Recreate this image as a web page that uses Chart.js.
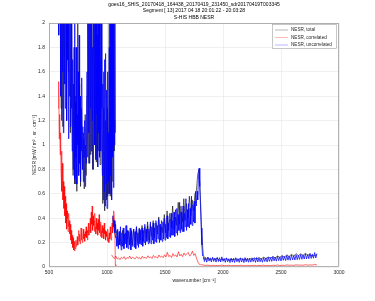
<!DOCTYPE html>
<html>
<head>
<meta charset="utf-8">
<script src="https://cdn.jsdelivr.net/npm/chart.js@4/dist/chart.umd.min.js"></script>
<style>
html,body{margin:0;padding:0;background:#fff;}
#wrap{width:375px;height:301px;}
</style>
</head>
<body>
<div id="wrap"><canvas id="c" width="375" height="301"></canvas></div>
<script>
// ---- Titles / labels ----
const titleLines = [
  "goes16_SHIS_20170418_164438_20170419_231450_sdr20170419T003345",
  "Segment [ 13] 2017 04 18 20:01:22 - 20:03:28",
  "S-HIS HBB NESR"
];
const xAxisTitle = "wavenumber [cm\u207B\u00B9]";
const yAxisTitle = "NESR [mW / m\u00B2 . sr . cm\u207B\u00B9]";
const seriesNames = ["NESR, total", "NESR, correlated", "NESR, uncorrelated"];
const xTicks = [500, 1000, 1500, 2000, 2500, 3000];
const yTicks = [0, 0.2, 0.4, 0.6, 0.8, 1, 1.2, 1.4, 1.6, 1.8, 2];
const yTickLabels = ["0", "0.2", "0.4", "0.6", "0.8", "1", "1.2", "1.4", "1.6", "1.8", "2"];

// ---- Band sampling (start wavenumber, step) ----
const lwGrid = [580, 4];
const mwGrid = [1050, 6];
const swGrid = [1830, 10];
const lwTotalGrid = [580, 8];
const mwTotalGrid = [1050, 12];
const swTotalGrid = [1830, 20];
const lwCorrGrid = [580, 4];
const mwCorrGrid = [1040, 12];
const swCorrGrid = [1810, 20];

// ---- NESR, uncorrelated (blue) ----
const lwUncorrelated = [
  2.6, 1.9, 2.8, 2.2, 3.0,
  1.4, 2.5, 1.2, 2.3, 1.6, 2.8, 1.1, 2.1, 1.5, 2.6, 1.3, 1.9, 2.4, 1.2, 2.2, 1.7, 2.9, 1.05, 2.0, 1.4, 2.5, 1.15, 1.8, 2.3, 1.3,
  0.95, 1.7, 0.8, 1.5, 1.1, 2.1, 0.72, 1.35, 0.9, 1.8, 0.68, 1.25, 1.0, 1.6, 0.75, 1.9, 0.85, 1.4, 0.7, 1.2, 0.95, 1.55,
  0.8, 1.15, 0.7, 1.05, 0.9, 1.2, 0.66, 1.0, 0.85, 1.3,
  1.6, 0.9, 2.4, 1.1, 2.2, 0.85, 2.7, 1.3, 2.0, 0.95, 2.5, 1.2, 1.8, 0.8, 2.3, 1.4, 2.9, 1.0, 2.1, 0.88, 2.6, 1.25, 1.9, 0.82, 2.4, 1.1, 2.2, 0.9, 1.7, 2.5, 0.95, 2.0, 1.3,
  0.75, 1.5, 0.55, 1.3, 0.62, 1.7, 0.5, 1.2, 0.68, 1.45, 0.48, 1.6, 0.58, 1.1, 0.7,
  1.8, 0.6, 2.4, 0.75, 2.1, 0.55, 2.6, 0.9, 2.2, 0.65, 2.8, 1.0, 2.3, 1.1
];
const mwUncorrelated = [
  0.42, 0.33, 0.38, 0.28, 0.35, 0.25,
  0.17, 0.31, 0.15, 0.29, 0.18, 0.33, 0.14, 0.28, 0.17, 0.32, 0.15, 0.27, 0.19, 0.34, 0.16, 0.3, 0.15, 0.29, 0.18, 0.32, 0.14, 0.3, 0.17, 0.27, 0.31, 0.16, 0.29, 0.15, 0.33, 0.18, 0.28, 0.16, 0.31, 0.19, 0.3,
  0.18, 0.32, 0.17, 0.3, 0.2, 0.35, 0.18, 0.31, 0.21, 0.34, 0.19, 0.31, 0.2, 0.37, 0.19, 0.33, 0.22, 0.36, 0.19, 0.32, 0.21, 0.38, 0.2, 0.34, 0.23, 0.39, 0.2, 0.35, 0.22, 0.33, 0.21, 0.37, 0.23, 0.4, 0.22, 0.35, 0.24, 0.42, 0.23, 0.36, 0.25, 0.39, 0.24, 0.44, 0.26, 0.38,
  0.26, 0.45, 0.25, 0.41, 0.28, 0.48, 0.26, 0.43, 0.3, 0.53, 0.28, 0.45, 0.31, 0.29, 0.5, 0.29, 0.44, 0.33, 0.56, 0.3, 0.47, 0.33, 0.52, 0.32, 0.48, 0.35, 0.58, 0.34, 0.51, 0.37, 0.54, 0.36, 0.62,
  0.5, 0.62, 0.55, 0.72, 0.81, 0.66, 0.5, 0.32, 0.18, 0.09
];
const swUncorrelated = [
  0.085, 0.045, 0.078, 0.04, 0.082, 0.048, 0.075, 0.042, 0.08, 0.046, 0.074, 0.04, 0.079, 0.044, 0.076, 0.041, 0.083, 0.047,
  0.07, 0.038, 0.075, 0.042, 0.068, 0.036, 0.073, 0.04, 0.071, 0.037, 0.076, 0.043, 0.069, 0.038, 0.074, 0.041, 0.07, 0.036, 0.077, 0.042, 0.072, 0.039, 0.068, 0.04, 0.075, 0.044, 0.071, 0.038, 0.078, 0.041, 0.073, 0.043, 0.07, 0.039, 0.076, 0.045, 0.074, 0.042, 0.08, 0.046,
  0.078, 0.046, 0.084, 0.05, 0.08, 0.048, 0.088, 0.052, 0.083, 0.05, 0.09, 0.055, 0.086, 0.053, 0.094, 0.056, 0.09, 0.055, 0.098, 0.058, 0.093, 0.057, 0.1, 0.06, 0.096, 0.062, 0.104, 0.063, 0.099, 0.065, 0.108, 0.066, 0.102, 0.068, 0.112, 0.07, 0.106, 0.072, 0.118, 0.074, 0.11
];

// ---- NESR, correlated (red) ----
const lwCorrelated = [
  1.30, 1.52, 1.05, 1.25, 0.92,
  1.1, 0.78, 0.95, 0.62, 0.85, 0.55, 0.7, 0.48, 0.66, 0.42,
  0.58, 0.36, 0.52, 0.31, 0.46, 0.4, 0.29, 0.44, 0.33, 0.38,
  0.27, 0.35, 0.22, 0.3, 0.19, 0.26, 0.16, 0.24, 0.14, 0.21, 0.13, 0.19, 0.15, 0.22, 0.17,
  0.2, 0.25, 0.18, 0.23, 0.3, 0.21, 0.27, 0.19, 0.24, 0.32, 0.22, 0.28, 0.2, 0.26, 0.31, 0.23, 0.27, 0.21, 0.29, 0.25, 0.33, 0.24, 0.3, 0.22, 0.28, 0.36, 0.26, 0.3,
  0.32, 0.4, 0.28, 0.45, 0.35, 0.5, 0.3, 0.42, 0.34, 0.38, 0.29, 0.44, 0.33, 0.27, 0.4, 0.31, 0.36, 0.26, 0.39, 0.3, 0.43, 0.28, 0.35, 0.25, 0.37, 0.3, 0.24, 0.34, 0.28, 0.32, 0.23, 0.36, 0.27, 0.3, 0.22, 0.29, 0.25,
  0.27, 0.21, 0.31, 0.24, 0.2, 0.28, 0.23, 0.33, 0.26, 0.22, 0.3, 0.36, 0.28, 0.42, 0.34, 0.46, 0.38, 0.3, 0.02, 0.01
];
const mwCorrelated = [
  0.1, 0.08, 0.07, 0.09, 0.065, 0.075, 0.06, 0.08, 0.07, 0.085, 0.062, 0.078, 0.07, 0.09, 0.066, 0.08, 0.072, 0.068, 0.085, 0.07,
  0.079, 0.064, 0.088, 0.072, 0.08, 0.07, 0.092, 0.075, 0.083, 0.07, 0.095, 0.078, 0.085, 0.072, 0.098, 0.08, 0.09, 0.076, 0.1, 0.082,
  0.12, 0.085, 0.095, 0.078, 0.11, 0.088, 0.1, 0.082, 0.125, 0.09, 0.105, 0.085, 0.115, 0.095, 0.108, 0.12, 0.09, 0.1, 0.13, 0.095,
  0.11, 0.07, 0.04, 0.022, 0.018
];
const swCorrelated = [
  0.02, 0.016, 0.013, 0.015, 0.012, 0.014, 0.011, 0.013, 0.012, 0.015, 0.011, 0.012, 0.014, 0.01, 0.013, 0.012, 0.011, 0.014, 0.012, 0.01,
  0.013, 0.011, 0.012, 0.014, 0.011, 0.013, 0.012, 0.015, 0.011, 0.013, 0.012, 0.014, 0.013, 0.016, 0.012, 0.014, 0.013, 0.017, 0.014, 0.015,
  0.013, 0.018, 0.015, 0.016, 0.014, 0.019, 0.015, 0.017, 0.016, 0.02, 0.017
];

// ---- NESR, total (black) ----
const lwTotal = [
  2.7, 2.1, 3.0, 1.3, 2.6, 1.15, 2.4, 1.5, 2.9, 1.2, 2.2, 1.6, 2.7, 1.1, 2.4, 1.35,
  0.75, 1.8, 0.68, 1.4, 0.62, 2.0, 0.78, 1.5, 0.66, 1.3, 0.8, 1.1, 0.64, 1.25, 0.75, 1.4,
  2.5, 0.85, 2.8, 0.92, 2.3, 0.8, 2.6, 1.0, 2.9, 0.86, 2.2, 0.95, 2.6, 0.84, 2.4, 1.2,
  0.52, 1.6, 0.46, 1.75, 0.55, 1.3, 0.6, 2.5, 0.58, 2.7, 0.7, 2.4, 0.95, 1.2
];
const mwTotal = [
  0.4, 0.3, 0.24, 0.3, 0.18, 0.29, 0.17, 0.3, 0.18, 0.28, 0.16, 0.3, 0.19, 0.29, 0.18, 0.31, 0.21, 0.33, 0.2, 0.32,
  0.22, 0.34, 0.21, 0.33, 0.24, 0.37, 0.22, 0.35, 0.25, 0.38, 0.24, 0.36, 0.27, 0.41, 0.26, 0.38, 0.28, 0.43, 0.28, 0.46,
  0.3, 0.44, 0.32, 0.5, 0.31, 0.47, 0.34, 0.53, 0.35, 0.5, 0.37, 0.56, 0.38, 0.52, 0.4, 0.58, 0.42, 0.55, 0.46, 0.6,
  0.62, 0.76, 0.8, 0.55, 0.25, 0.1, 0.07
];
const swTotal = [
  0.07, 0.062, 0.075, 0.058, 0.068, 0.06, 0.072, 0.055, 0.066, 0.058, 0.07, 0.054, 0.064, 0.06, 0.068, 0.056, 0.072, 0.06, 0.066, 0.058,
  0.07, 0.062, 0.075, 0.064, 0.078, 0.066, 0.08, 0.07, 0.082, 0.072, 0.086, 0.074, 0.09, 0.078, 0.095, 0.08, 0.1, 0.085, 0.105, 0.09,
  0.11, 0.092, 0.108, 0.095, 0.112, 0.098, 0.1, 0.09, 0.095, 0.1
];

// ---- build point lists (bands separated by a gap) ----
function bandsToPoints(bands) {
  const pts = [];
  bands.forEach(([grid, vals], bi) => {
    if (bi > 0) pts.push({ x: pts[pts.length - 1].x, y: null });
    vals.forEach((v, i) => pts.push({ x: grid[0] + i * grid[1], y: v }));
  });
  return pts;
}

const seriesColors = ["#000000", "#ff0000", "#0000ff"];
const seriesWidths = [0.6, 0.6, 0.75];
const legendColors = ["#9a9a9a", "#ff9a9a", "#9a9aff"];
const FONT = "'Liberation Sans', Arial, Helvetica, sans-serif";

const textPlugin = {
  id: 'matlabText',
  afterDraw(chart) {
    const ctx = chart.ctx;
    const a = chart.chartArea;
    ctx.save();
    // axes box
    ctx.strokeStyle = '#a0a0a0';
    ctx.lineWidth = 0.8;
    ctx.strokeRect(a.left + 0.5, a.top + 0.5, a.right - a.left - 1, a.bottom - a.top - 1);
    // titles
    ctx.fillStyle = '#000';
    ctx.font = '5px ' + FONT;
    ctx.textAlign = 'center';
    ctx.textBaseline = 'middle';
    const cx = (a.left + a.right) / 2;
    const ty = [4.5, 11, 17.5];
    titleLines.forEach((t, i) => ctx.fillText(t, cx, ty[i]));
    // x axis title
    ctx.fillStyle = '#262626';
    ctx.fillText(xAxisTitle, cx, 281);
    // y axis title
    ctx.save();
    ctx.translate(35, (a.top + a.bottom) / 2);
    ctx.rotate(-Math.PI / 2);
    ctx.fillText(yAxisTitle, 0, 0);
    ctx.restore();
    // legend
    const lx = 272, ly = 24, lw = 65, lh = 25;
    ctx.fillStyle = '#fff';
    ctx.fillRect(lx, ly, lw, lh);
    ctx.strokeStyle = '#a0a0a0';
    ctx.lineWidth = 0.6;
    ctx.strokeRect(lx + 0.5, ly + 0.5, lw - 1, lh - 1);
    ctx.textAlign = 'left';
    ctx.font = '4.6px ' + FONT;
    seriesNames.forEach((n, i) => {
      const y = ly + 6 + i * 7.5;
      ctx.strokeStyle = legendColors[i];
      ctx.lineWidth = 0.7;
      ctx.beginPath();
      ctx.moveTo(lx + 3, y);
      ctx.lineTo(lx + 16, y);
      ctx.stroke();
      ctx.fillStyle = '#262626';
      ctx.fillText(n, lx + 19, y);
    });
    ctx.restore();
  }
};

const datasets = [
  { label: seriesNames[0], data: bandsToPoints([[lwTotalGrid, lwTotal], [mwTotalGrid, mwTotal], [swTotalGrid, swTotal]]), order: 3 },
  { label: seriesNames[1], data: bandsToPoints([[lwCorrGrid, lwCorrelated], [mwCorrGrid, mwCorrelated], [swCorrGrid, swCorrelated]]), order: 2 },
  { label: seriesNames[2], data: bandsToPoints([[lwGrid, lwUncorrelated], [mwGrid, mwUncorrelated], [swGrid, swUncorrelated]]), order: 1 }
].map((d, i) => Object.assign(d, { borderColor: seriesColors[i], borderWidth: seriesWidths[i], pointRadius: 0, tension: 0, spanGaps: false, fill: false }));

new Chart(document.getElementById('c'), {
  type: 'line',
  data: { datasets },
  options: {
    responsive: false,
    animation: false,
    devicePixelRatio: 1,
    layout: { padding: { top: 23, right: 36, left: 0, bottom: 0 } },
    plugins: { legend: { display: false }, title: { display: false }, tooltip: { enabled: false } },
    scales: {
      x: {
        type: 'linear', min: 500, max: 3000,
        afterFit(s) { s.height = 34; },
        afterBuildTicks(s) { s.ticks = xTicks.map(v => ({ value: v })); },
        ticks: { font: { size: 5, family: FONT }, color: '#262626', padding: 3, maxRotation: 0, autoSkip: false, callback: v => String(v) },
        grid: { color: '#e6e6e6', lineWidth: 0.6, drawTicks: false },
        border: { display: false }
      },
      y: {
        type: 'linear', min: 0, max: 2,
        afterFit(s) { s.width = 49; },
        afterBuildTicks(s) { s.ticks = yTicks.map(v => ({ value: v })); },
        ticks: { font: { size: 5, family: FONT }, color: '#262626', padding: 4, autoSkip: false,
          callback: (v) => { const i = yTicks.findIndex(t => Math.abs(t - v) < 1e-9); return i >= 0 ? yTickLabels[i] : ''; } },
        grid: { color: '#e6e6e6', lineWidth: 0.6, drawTicks: false },
        border: { display: false }
      }
    }
  },
  plugins: [textPlugin]
});
</script>
</body>
</html>
